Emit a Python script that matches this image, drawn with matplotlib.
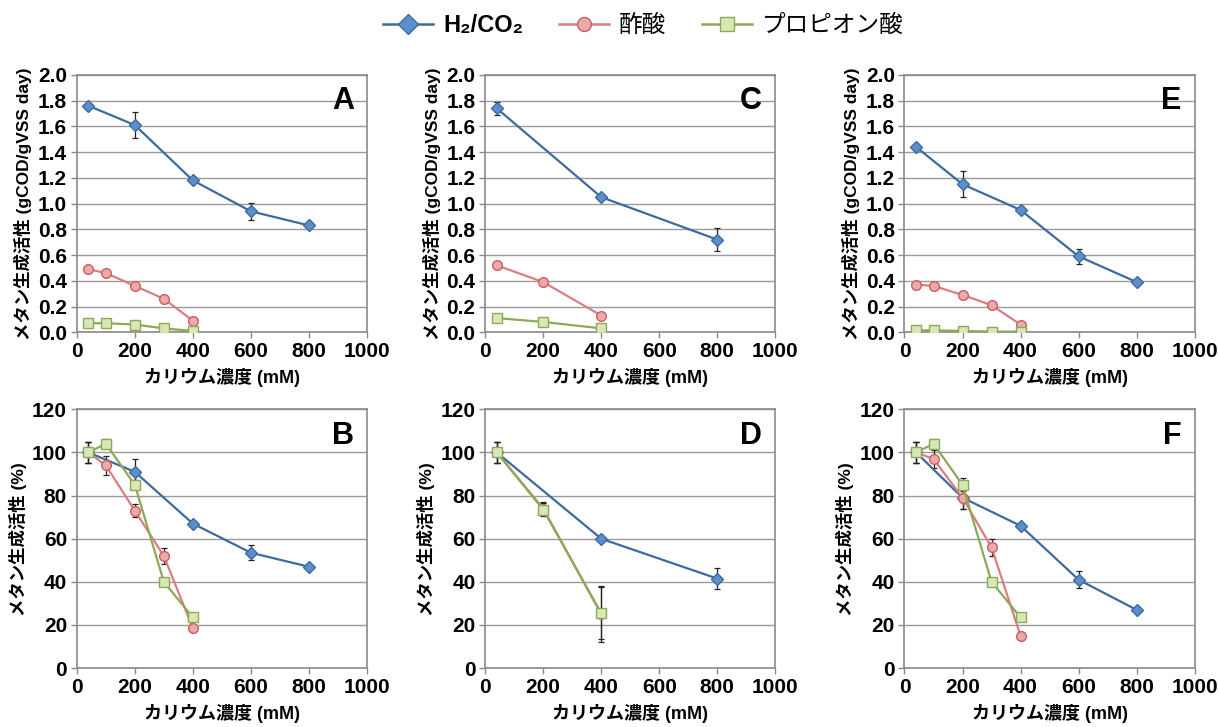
import matplotlib
matplotlib.use("Agg")
import matplotlib.pyplot as plt
from matplotlib.lines import Line2D

plt.rcParams['font.family'] = ['Liberation Sans', 'Noto Sans CJK JP', 'DejaVu Sans']

# --- data ---
# A: 絶対値 (gCOD/gVSS day)
a_h2_x = [40, 200, 400, 600, 800]
a_h2_y = [1.76, 1.61, 1.18, 0.94, 0.83]
a_h2_e = [0.01, 0.10, 0.02, 0.065, 0.01]
a_ac_x = [40, 100, 200, 300, 400]
a_ac_y = [0.49, 0.46, 0.36, 0.26, 0.09]
a_pr_x = [40, 100, 200, 300, 400]
a_pr_y = [0.07, 0.07, 0.06, 0.03, 0.01]

# B: 相対値 (%)
b_h2_x = [40, 200, 400, 600, 800]
b_h2_y = [100, 91, 67, 53.5, 47]
b_h2_e = [5, 6, 1, 3.5, 1]
b_ac_x = [40, 100, 200, 300, 400]
b_ac_y = [100, 94, 73, 52, 18.5]
b_ac_e = [5, 4.5, 3, 3.5, 1]
b_pr_x = [40, 100, 200, 300, 400]
b_pr_y = [100, 104, 85, 40, 23.5]
b_pr_e = [5, 2, 2, 1, 1]

# C
c_h2_x = [40, 400, 800]
c_h2_y = [1.74, 1.05, 0.72]
c_h2_e = [0.05, 0.02, 0.09]
c_ac_x = [40, 200, 400]
c_ac_y = [0.52, 0.39, 0.13]
c_pr_x = [40, 200, 400]
c_pr_y = [0.11, 0.08, 0.03]

# D
d_h2_x = [40, 400, 800]
d_h2_y = [100, 60, 41.5]
d_h2_e = [5, 1, 5]
d_ac_x = [40, 200, 400]
d_ac_y = [100, 74, 25]
d_ac_e = [5, 3, 13]
d_pr_x = [40, 200, 400]
d_pr_y = [100, 73.5, 25.5]
d_pr_e = [5, 3, 12]

# E
e_h2_x = [40, 200, 400, 600, 800]
e_h2_y = [1.44, 1.15, 0.95, 0.59, 0.39]
e_h2_e = [0.01, 0.10, 0.02, 0.06, 0.01]
e_ac_x = [40, 100, 200, 300, 400]
e_ac_y = [0.37, 0.36, 0.29, 0.21, 0.06]
e_pr_x = [40, 100, 200, 300, 400]
e_pr_y = [0.015, 0.015, 0.01, 0.005, 0.005]

# F
f_h2_x = [40, 200, 400, 600, 800]
f_h2_y = [100, 79, 66, 41, 27]
f_h2_e = [5, 5, 1, 4, 1]
f_ac_x = [40, 100, 200, 300, 400]
f_ac_y = [100, 97, 79, 56, 15]
f_ac_e = [5, 4, 5, 4, 1]
f_pr_x = [40, 100, 200, 300, 400]
f_pr_y = [100, 104, 85, 40, 23.5]
f_pr_e = [5, 2, 3, 1, 1]

legend_labels = ['H₂/CO₂', '酢酸', 'プロピオン酸']
xlabel = 'カリウム濃度 (mM)'
ylabel_abs = 'メタン生成活性 (gCOD/gVSS day)'
ylabel_rel = 'メタン生成活性 (%)'

# styles: (line colour, marker, face, edge, size)
sty_h2 = dict(color='#3E6A9E', marker='D', mfc='#5B8FCB', mec='#3E6A9E', ms=6.5)
sty_ac = dict(color='#D97F80', marker='o', mfc='#ECA9AA', mec='#C95F62', ms=7)
sty_pr = dict(color='#8CAA55', marker='s', mfc='#D9E6B8', mec='#8CAA55', ms=7)

fig = plt.figure(figsize=(12.19, 7.27), dpi=100)

cols = [0.063, 0.398, 0.742]
w = 0.238
top_b, top_h = 0.543, 0.354
bot_b, bot_h = 0.081, 0.356


def draw(ax, series, ymax, ystep, yfmt, ylabel, letter):
    for (x, y, e), st in series:
        if e is not None:
            ax.errorbar(x, y, yerr=e, fmt='none', ecolor='#222222',
                        elinewidth=0.9, capsize=2, capthick=0.9, zorder=3)
        ax.plot(x, y, lw=1.6, zorder=4, **st)
    ax.set_xlim(0, 1000)
    ax.set_ylim(0, ymax)
    ax.set_xticks(range(0, 1001, 200))
    yt = [i * ystep for i in range(int(round(ymax / ystep)) + 1)]
    ax.set_yticks(yt)
    ax.set_yticklabels([yfmt % v for v in yt])
    ax.yaxis.grid(True, color='#9A9A9A', lw=1.0)
    ax.set_axisbelow(True)
    for s in ax.spines.values():
        s.set_color('#8A8A8A')
        s.set_linewidth(1.2)
    ax.tick_params(colors='#8A8A8A', labelcolor='black', length=4, width=1,
                   labelsize=15, pad=3)
    for t in ax.get_xticklabels() + ax.get_yticklabels():
        t.set_fontweight('bold')
    ax.set_xlabel(xlabel, fontsize=13, fontweight='bold', labelpad=5)
    ax.set_ylabel(ylabel, fontsize=12.5, fontweight='bold', labelpad=4)
    ax.text(0.955, 0.955, letter, transform=ax.transAxes, ha='right', va='top',
            fontsize=22, fontweight='bold')


axA = fig.add_axes([cols[0], top_b, w, top_h])
draw(axA, [((a_h2_x, a_h2_y, a_h2_e), sty_h2), ((a_ac_x, a_ac_y, None), sty_ac),
           ((a_pr_x, a_pr_y, None), sty_pr)], 2.0, 0.2, '%.1f', ylabel_abs, 'A')
axC = fig.add_axes([cols[1], top_b, w, top_h])
draw(axC, [((c_h2_x, c_h2_y, c_h2_e), sty_h2), ((c_ac_x, c_ac_y, None), sty_ac),
           ((c_pr_x, c_pr_y, None), sty_pr)], 2.0, 0.2, '%.1f', ylabel_abs, 'C')
axE = fig.add_axes([cols[2], top_b, w, top_h])
draw(axE, [((e_h2_x, e_h2_y, e_h2_e), sty_h2), ((e_ac_x, e_ac_y, None), sty_ac),
           ((e_pr_x, e_pr_y, None), sty_pr)], 2.0, 0.2, '%.1f', ylabel_abs, 'E')

axB = fig.add_axes([cols[0], bot_b, w, bot_h])
draw(axB, [((b_h2_x, b_h2_y, b_h2_e), sty_h2), ((b_ac_x, b_ac_y, b_ac_e), sty_ac),
           ((b_pr_x, b_pr_y, b_pr_e), sty_pr)], 120, 20, '%d', ylabel_rel, 'B')
axD = fig.add_axes([cols[1], bot_b, w, bot_h])
draw(axD, [((d_h2_x, d_h2_y, d_h2_e), sty_h2), ((d_ac_x, d_ac_y, d_ac_e), sty_ac),
           ((d_pr_x, d_pr_y, d_pr_e), sty_pr)], 120, 20, '%d', ylabel_rel, 'D')
axF = fig.add_axes([cols[2], bot_b, w, bot_h])
draw(axF, [((f_h2_x, f_h2_y, f_h2_e), sty_h2), ((f_ac_x, f_ac_y, f_ac_e), sty_ac),
           ((f_pr_x, f_pr_y, f_pr_e), sty_pr)], 120, 20, '%d', ylabel_rel, 'F')

handles = [Line2D([], [], lw=1.8, **sty_h2), Line2D([], [], lw=1.8, **sty_ac),
           Line2D([], [], lw=1.8, **sty_pr)]
for h in handles:
    h.set_markersize(10)
leg = fig.legend(handles, legend_labels, loc='center', bbox_to_anchor=(0.528, 0.965),
                 ncol=3, frameon=False, fontsize=17, handlelength=2.1,
                 columnspacing=1.5, handletextpad=0.45)
leg.get_texts()[0].set_fontweight('bold')

fig.savefig('out.png', dpi=100)
